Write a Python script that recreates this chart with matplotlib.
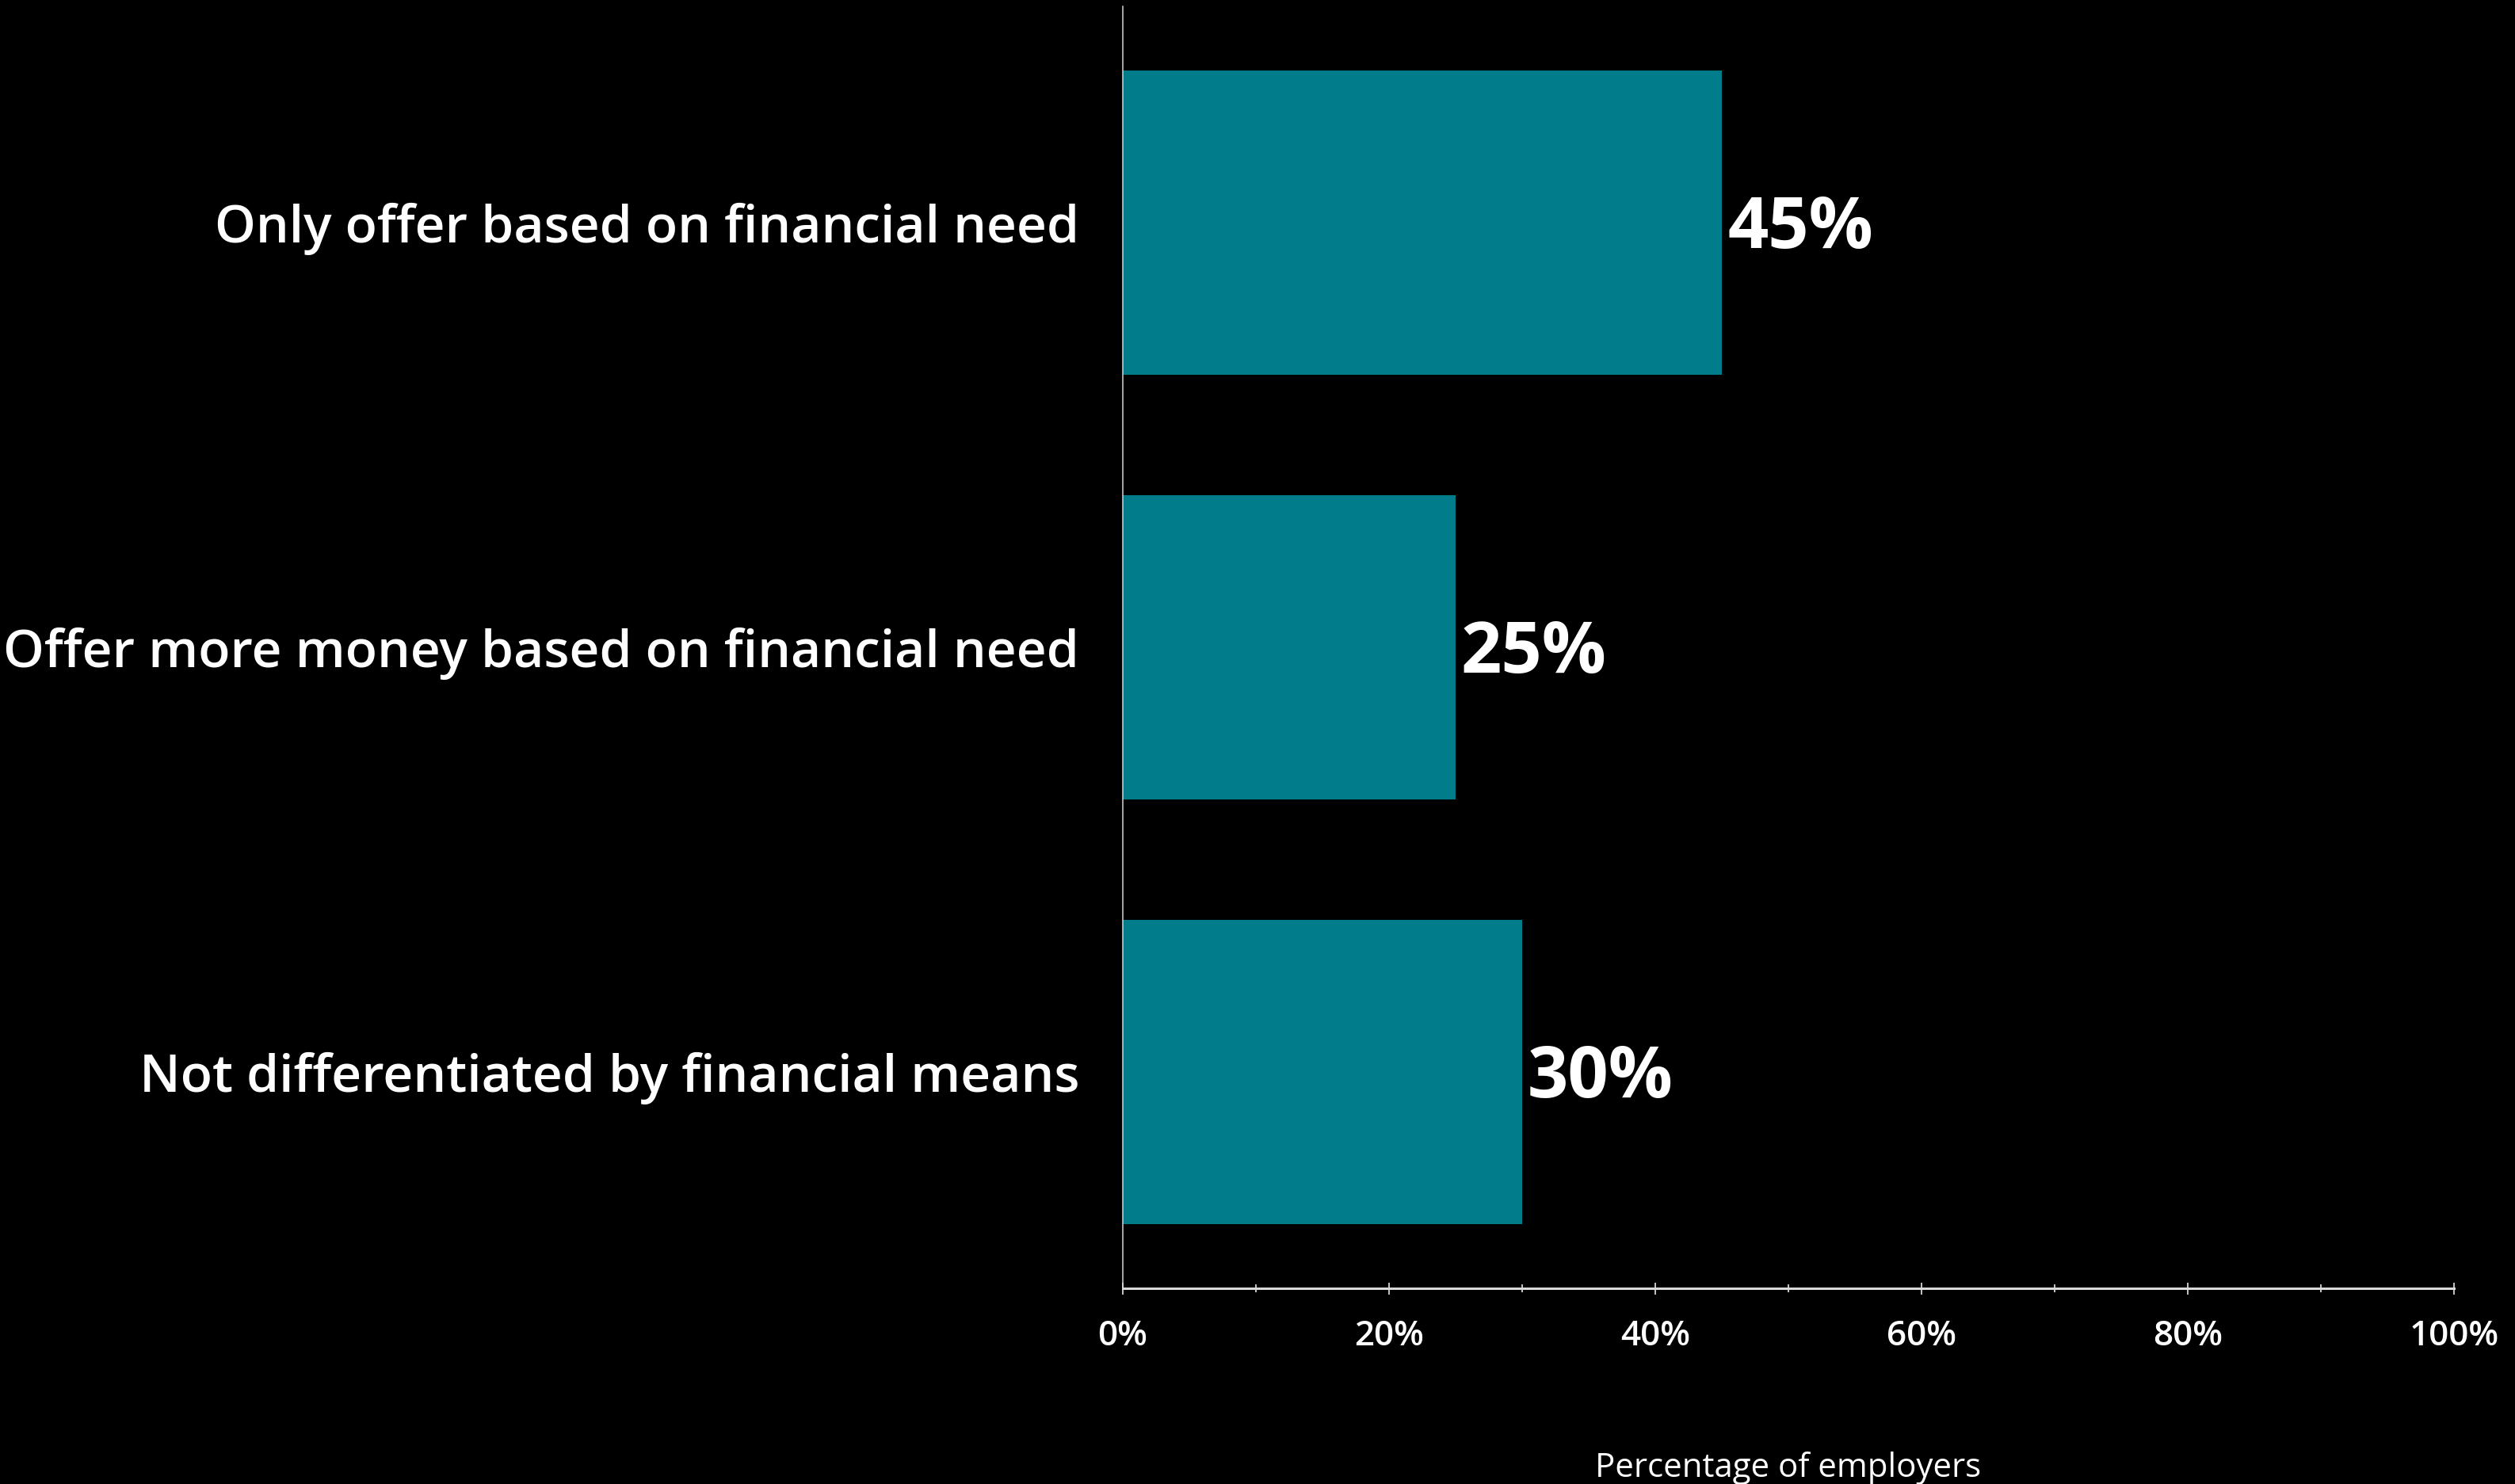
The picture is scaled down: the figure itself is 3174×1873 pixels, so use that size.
import matplotlib
matplotlib.use('Agg')
import matplotlib.pyplot as plt
from matplotlib.ticker import MultipleLocator, PercentFormatter

categories = ['Only offer based on financial need',
              'Offer more money based on financial need',
              'Not differentiated by financial means']
values = [45, 25, 30]
xticks = [0, 20, 40, 60, 80, 100]

plt.rcParams['font.family'] = ['Open Sans', 'DejaVu Sans']

# dpi 72 so that point sizes equal pixels
fig = plt.figure(figsize=(3174/72, 1873/72), dpi=72, facecolor='black')
ax = fig.add_axes([1417/3174, 1 - 1626/1873, 1680/3174, 1618/1873], facecolor='black')

y = list(range(len(categories)))
bars = ax.barh(y, values, height=0.716, color='#017C8A')
for b, v in zip(bars, values):
    ax.annotate(f'{v}%', (b.get_width(), b.get_y() + b.get_height() / 2),
                xytext=(7, -9), textcoords='offset points',
                color='white', fontsize=90, fontweight='bold', va='center', ha='left')

ax.set_ylim(2.51, -0.51)
ax.set_xlim(0, 100)
ax.set_yticks(y)
ax.set_yticklabels(categories, fontsize=66, fontweight=600, color='white')
for lab in ax.get_yticklabels():
    lab.set_va('center_baseline')
ax.tick_params(axis='y', length=0, pad=55)

ax.set_xticks(xticks)
ax.xaxis.set_minor_locator(MultipleLocator(10))
ax.xaxis.set_major_formatter(PercentFormatter(decimals=0))
ax.tick_params(axis='x', which='major', direction='inout', length=15, width=1.5,
               color='white', labelcolor='white', labelsize=44, pad=32)
ax.tick_params(axis='x', which='minor', direction='inout', length=10, width=1.5, color='white')
for lab in ax.get_xticklabels():
    lab.set_fontweight(600)

for s in ['top', 'right']:
    ax.spines[s].set_visible(False)
ax.spines['bottom'].set_color('#d9d9d9')
ax.spines['bottom'].set_linewidth(3)
ax.spines['left'].set_color('#d9d9d9')
ax.spines['left'].set_linewidth(1.5)

ax.set_xlabel('Percentage of employers', fontsize=42, color='white', labelpad=124)

fig.savefig('out.png', dpi=72, facecolor='black')
